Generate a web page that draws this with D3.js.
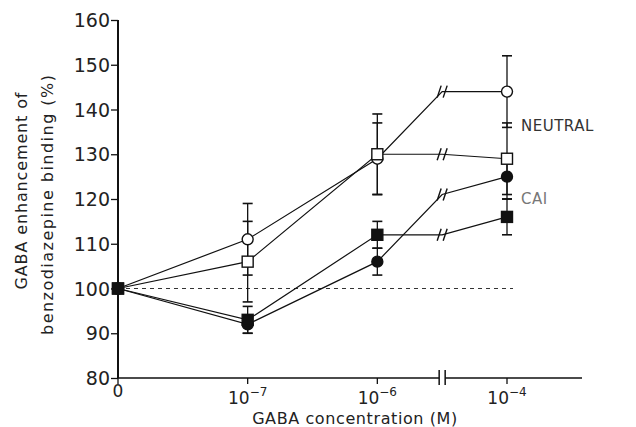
<!DOCTYPE html>
<html><head><meta charset="utf-8">
<script src="https://cdn.jsdelivr.net/npm/d3@7"></script>
<style>body{margin:0;background:#fff}svg{display:block}text{font-family:"DejaVu Sans",sans-serif;fill:#222}</style>
</head><body><svg id="c" width="636" height="427"></svg>
<script>
// x positions: 0, 1e-7, 1e-6, axis break, 1e-4
const xPos = [0, 1, 2, 2.5, 3];
const xTickPos = [0, 1, 2, 3];
const xTickBase = ["0", "10", "10", "10"];
const xTickExp = ["", "−7", "−6", "−4"];
const yTicks = [80, 90, 100, 110, 120, 130, 140, 150, 160];

const openCircle   = [100, 111, 129, 144, 144];
const openSquare   = [100, 106, 130, 130, 129];
const filledCircle = [100, 92, 106, 121, 125];
const filledSquare = [100, 93, 112, 112, 116];
const openCircleErr   = [0, 8, 8, null, 8];
const openSquareErr   = [0, 9, 9, null, 8];
const filledCircleErr = [0, 2, 3, null, 5];
const filledSquareErr = [0, 3, 3, null, 4];
const labels = [{t:"NEUTRAL", v:136.3, c:"#333"}, {t:"CAI", v:120, c:"#777"}];

const svg = d3.select("#c");
const x = d3.scaleLinear().domain([0, 3]).range([118, 507]);
const y = d3.scaleLinear().domain([80, 160]).range([378, 20]);
const breakIdx = 3;

// y axis
const yAx = svg.append("g").attr("transform","translate(118,0)")
  .call(d3.axisLeft(y).tickValues(yTicks).tickSize(7).tickPadding(1).tickFormat(d3.format("d")));
yAx.select(".domain").attr("stroke","#111").attr("stroke-width",2).attr("d","M0,"+y(160)+"V"+y(80));
yAx.selectAll(".tick line").attr("stroke","#111").attr("stroke-width",1.3);
yAx.selectAll(".tick text").style("font-size","19px").attr("fill","#222").attr("dy","0.35em");

// x axis with break
const xEnd = 582, bx1 = x(2.5) - 3, bx2 = x(2.5) + 3, ya = y(80);
const ax = svg.append("g");
ax.append("path").attr("d", `M118,${ya}H${bx1}M${bx2},${ya}H${xEnd}`).attr("stroke","#111").attr("stroke-width",1.5).attr("fill","none");
[bx1, bx2].forEach(b => ax.append("line").attr("x1",b).attr("x2",b).attr("y1",ya-8).attr("y2",ya+7).attr("stroke","#111").attr("stroke-width",1.5));
xTickPos.forEach((p,i) => {
  ax.append("line").attr("x1",x(p)).attr("x2",x(p)).attr("y1",ya).attr("y2",ya+6).attr("stroke","#111").attr("stroke-width",1.3);
  const t = ax.append("text").attr("x", x(p)).attr("y", i===0 ? 397 : 404).attr("text-anchor","middle").style("font-size","17px");
  t.append("tspan").text(xTickBase[i]);
  if (xTickExp[i]) t.append("tspan").attr("dy","-8").style("font-size","12px").text(xTickExp[i]);
});
svg.append("text").attr("x",355).attr("y",424).attr("text-anchor","middle").style("font-size","16px").style("letter-spacing","0.6px").text("GABA concentration (M)");

// y label (two lines)
svg.append("text").attr("transform","translate(27,191) rotate(-90)").attr("text-anchor","middle")
  .style("font-size","16px").attr("textLength",197).attr("lengthAdjust","spacing").text("GABA enhancement of");
svg.append("text").attr("transform","translate(53,205) rotate(-90)").attr("text-anchor","middle")
  .style("font-size","16px").attr("textLength",260).attr("lengthAdjust","spacing").text("benzodiazepine binding (%)");

// dashed reference line
svg.append("line").attr("x1",118).attr("x2",513).attr("y1",y(100)).attr("y2",y(100))
  .attr("stroke","#333").attr("stroke-width",1).attr("stroke-dasharray","4,4");

const series = [
  {v:openCircle, e:openCircleErr, type:"circle", fill:"#fff"},
  {v:openSquare, e:openSquareErr, type:"square", fill:"#fff"},
  {v:filledCircle, e:filledCircleErr, type:"circle", fill:"#111"},
  {v:filledSquare, e:filledSquareErr, type:"square", fill:"#111"}
];
const line = d3.line().x((d,i)=>x(xPos[i])).y(d=>y(d));

series.forEach(s => {
  svg.append("path").attr("d", line(s.v)).attr("fill","none").attr("stroke","#111").attr("stroke-width",1.2);
  // break marks
  const bxp = x(xPos[breakIdx]), byp = y(s.v[breakIdx]);
  [-3, 3].forEach(o => svg.append("line")
    .attr("x1", bxp+o-2).attr("x2", bxp+o+2).attr("y1", byp+6).attr("y2", byp-6)
    .attr("stroke","#111").attr("stroke-width",1.4));
});
// error bars
series.forEach(s => {
  s.v.forEach((v,i) => {
    const e = s.e[i];
    if (!e) return;
    const cx = x(xPos[i]);
    svg.append("line").attr("x1",cx).attr("x2",cx).attr("y1",y(v+e)).attr("y2",y(v-e)).attr("stroke","#111").attr("stroke-width",1.3);
    [v+e, v-e].forEach(c => svg.append("line").attr("x1",cx-5).attr("x2",cx+5).attr("y1",y(c)).attr("y2",y(c)).attr("stroke","#111").attr("stroke-width",1.6));
  });
});
// markers
series.forEach(s => {
  s.v.forEach((v,i) => {
    if (i === breakIdx) return;
    const cx = x(xPos[i]), cy = y(v);
    if (s.type === "circle") svg.append("circle").attr("cx",cx).attr("cy",cy).attr("r",5.5).attr("fill",s.fill).attr("stroke","#111").attr("stroke-width",1.4);
    else svg.append("rect").attr("x",cx-5.5).attr("y",cy-5.5).attr("width",11).attr("height",11).attr("fill",s.fill).attr("stroke","#111").attr("stroke-width",1.4);
  });
});
// labels
labels.forEach(l => svg.append("text").attr("x",521).attr("y",y(l.v)).attr("dy","0.35em").style("font-size","15px").style("letter-spacing","0.5px").style("fill",l.c).text(l.t));
</script></body></html>
